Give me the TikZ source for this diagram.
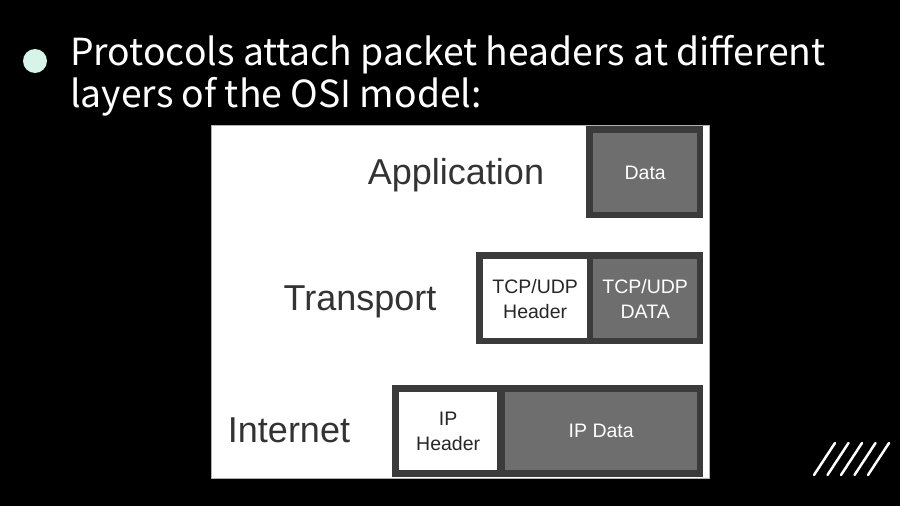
\documentclass[tikz,border=0pt]{standalone}
\usepackage{fontspec}
\setmainfont{Liberation Sans}
\newfontfamily\titlefont{Noto Sans CJK SC}
\begin{document}
\begin{tikzpicture}[x=1pt,y=-1pt,
  framebox/.style={fill=framegray, inner sep=0pt, anchor=north west},
  databox/.style={fill=datagray, text=white, inner sep=0pt, anchor=north west, font=\fontsize{19.5}{25}\selectfont, align=center},
  hdrbox/.style={fill=white, text=black!85, inner sep=0pt, anchor=north west, font=\fontsize{19.5}{25}\selectfont, align=center},
  layerlabel/.style={text=black!80, font=\fontsize{36}{40}\selectfont, inner sep=0pt, anchor=base},
  titletext/.style={text=white, font=\titlefont\fontsize{37.3}{42}\selectfont, anchor=base west, inner sep=0pt}
]
\definecolor{framegray}{HTML}{3B3B3B}
\definecolor{datagray}{HTML}{6E6E6E}
\definecolor{mint}{HTML}{D6F5E8}
\useasboundingbox (0,0) rectangle (900,506);
\fill[black] (0,0) rectangle (900,506);
% bullet and title
\fill[mint] (35,61) circle (12);
\node[titletext] (t1) at (70,65) {Protocols attach packet headers at different};
\node[titletext] (t2) at (70,107) {layers of the OSI model:};
% panel
\node[fill=white, draw=black!30, line width=0.8pt, anchor=north west, inner sep=0pt, minimum width=498, minimum height=353] (panel) at (211,125) {};
% Application
\node[layerlabel] (app) at (456,184) {Application};
\node[framebox, minimum width=117, minimum height=92] (appf) at (586,126) {};
\node[databox, minimum width=104, minimum height=79] (appd) at (593,133) {Data};
% Transport
\node[layerlabel] (tr) at (360,310) {Transport};
\node[framebox, minimum width=227, minimum height=92] (trf) at (476,252) {};
\node[hdrbox, minimum width=104, minimum height=79] (trh) at (483,259) {TCP/UDP\\Header};
\node[databox, minimum width=104, minimum height=79] (trd) at (593,259) {TCP/UDP\\DATA};
% Internet
\node[layerlabel] (in) at (289,442) {Internet};
\node[framebox, minimum width=311, minimum height=92] (inf) at (392,385) {};
\node[hdrbox, minimum width=98, minimum height=78] (inh) at (399,392) {IP\\Header};
\node[databox, minimum width=192, minimum height=78] (ind) at (505,392) {IP Data};
% slashes
\foreach \i in {0,...,4}{
  \draw[white, line width=2.5pt, line cap=round] (814+13.5*\i,475) -- (835+13.5*\i,443);
}
\end{tikzpicture}
\end{document}
